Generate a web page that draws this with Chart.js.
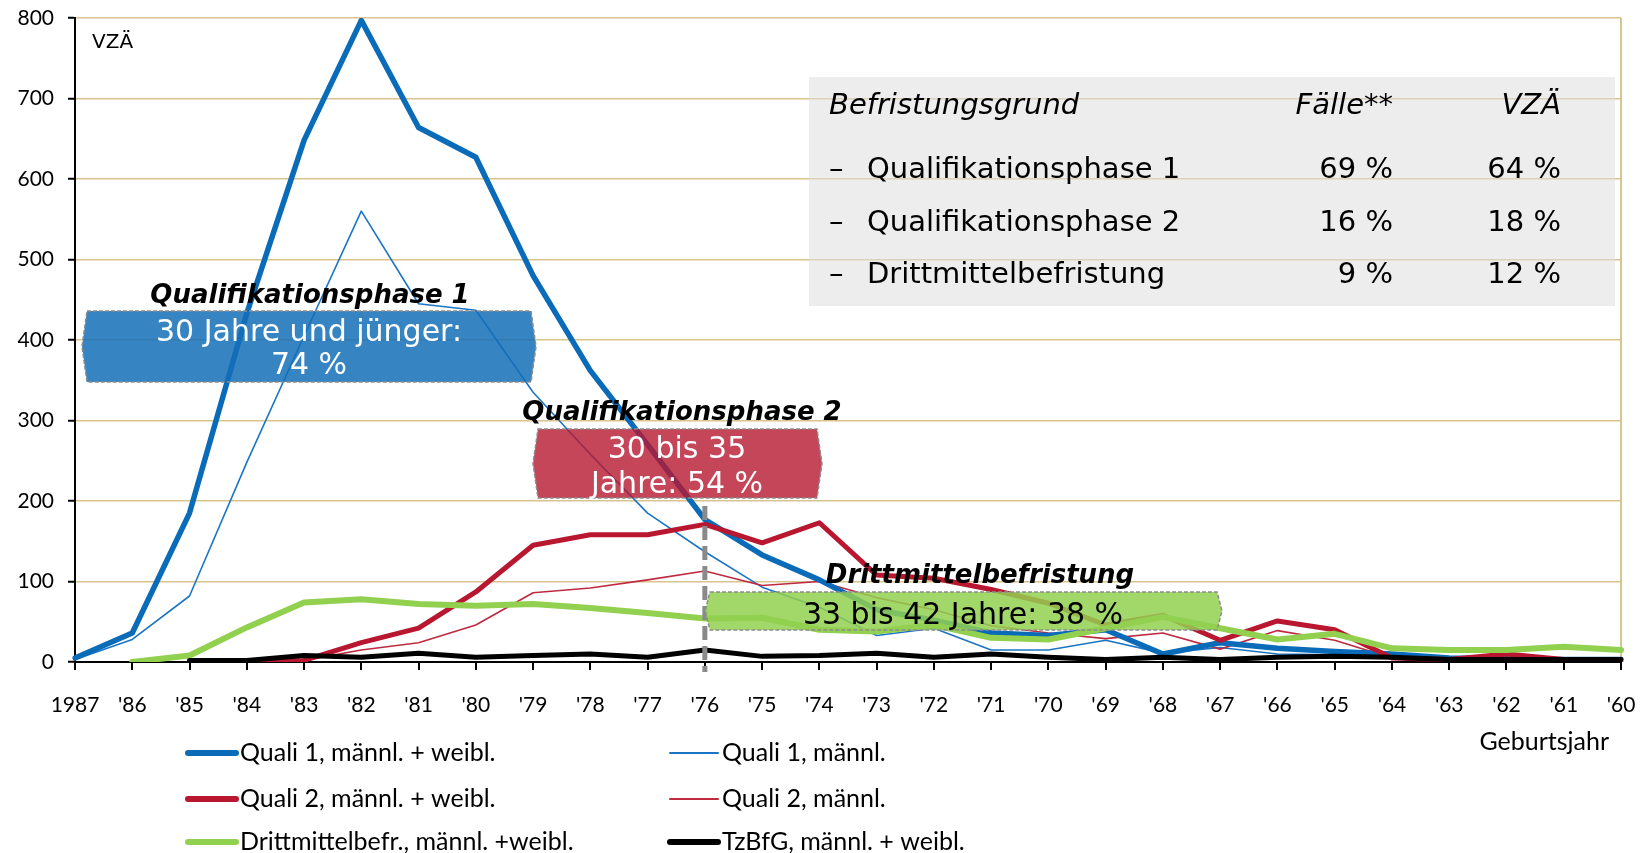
<!DOCTYPE html>
<html>
<head>
<meta charset="utf-8">
<script src="https://cdn.jsdelivr.net/npm/chart.js@4.4.1/dist/chart.umd.min.js"></script>
<style>
  html, body { margin: 0; padding: 0; background: #fff; }
  canvas { display: block; }
</style>
</head>
<body>
<canvas id="chart" width="1641" height="853"></canvas>
<script>
// --- data (VZÄ by birth year) ---
const years = ['1987', "'86", "'85", "'84", "'83", "'82", "'81", "'80", "'79", "'78", "'77", "'76", "'75", "'74",
               "'73", "'72", "'71", "'70", "'69", "'68", "'67", "'66", "'65", "'64", "'63", "'62", "'61", "'60"];
const quali1All = [5, 36, 185, 433, 648, 797, 664, 627, 480, 362, 270, 177, 133, 102, 65, 52, 36, 33, 40, 10, 24, 17, 13, 10, 5, 4, 3, 3];
const quali1M   = [3, 28, 82, 248, 405, 560, 445, 437, 335, 258, 185, 137, 93, 68, 33, 42, 15, 15, 27, 11, 18, 10, 9, 6, 3, 3, 2, 2];
const quali2All = [null, null, null, 0, 2, 24, 42, 87, 145, 158, 158, 171, 148, 173, 108, 104, 90, 73, 46, 58, 27, 51, 40, 5, 3, 10, 3, 2];
const quali2M   = [null, null, null, 0, 2, 15, 24, 46, 86, 92, 102, 113, 95, 100, 80, 65, 45, 36, 29, 36, 16, 39, 27, 5, 2, 5, 2, 2];
const dritt     = [null, 0, 8, 43, 74, 78, 72, 70, 72, 67, 61, 54, 55, 40, 38, 46, 30, 28, 42, 56, 42, 28, 35, 17, 15, 15, 19, 15];
const tzbfg     = [null, null, 2, 2, 8, 6, 11, 6, 8, 10, 6, 15, 7, 8, 11, 6, 10, 6, 3, 6, 3, 6, 7, 6, 3, 3, 3, 3];
const yTicks = [0, 100, 200, 300, 400, 500, 600, 700, 800];

// table in the upper right
const tableHead = ['Befristungsgrund', 'Fälle**', 'VZÄ'];
const tableRows = ['Qualifikationsphase 1', 'Qualifikationsphase 2', 'Drittmittelbefristung'];
const tableFaelle = ['69 %', '16 %', '9 %'];
const tableVZAE = ['64 %', '18 %', '12 %'];

const TAN = '#D8C48C';
const SANS = '"DejaVu Sans", Verdana, sans-serif';
const CAL = 'Lato, "Open Sans", sans-serif';

function mkSet(label, data, color, width, order){
  return { label, data, borderColor: color, backgroundColor: color, borderWidth: width,
           order, pointRadius: 0, tension: 0, fill: false,
           borderJoinStyle: 'round', borderCapStyle: 'round' };
}

const datasets = [
  mkSet('Quali 1, männl. + weibl.', quali1All, '#0A6BB8', 5.5, 3),
  mkSet('Quali 1, männl.', quali1M, '#1A76C4', 1.6, 5),
  mkSet('Quali 2, männl. + weibl.', quali2All, '#B8172F', 5, 2),
  mkSet('Quali 2, männl.', quali2M, '#BE2A40', 1.6, 4),
  mkSet('Drittmittelbefr., männl. +weibl.', dritt, '#92D050', 6, 1),
  mkSet('TzBfG, männl. + weibl.', tzbfg, '#000000', 5, 0)
];

// hexagon-ish label box (sides with a slight point)
function labelBox(c, x0, y0, x1, y1, fill){
  const ym = (y0 + y1) / 2, p = 5;
  c.save();
  c.beginPath();
  c.moveTo(x0, y0); c.lineTo(x1, y0); c.lineTo(x1 + p, ym); c.lineTo(x1, y1);
  c.lineTo(x0, y1); c.lineTo(x0 - p, ym); c.closePath();
  c.fillStyle = fill; c.fill();
  c.setLineDash([4, 2]); c.lineWidth = 1.5; c.strokeStyle = '#8c8c8c'; c.stroke();
  c.restore();
}

function txt(c, s, x, y, font, color, align){
  c.save();
  c.font = font; c.fillStyle = color; c.textAlign = align || 'center'; c.textBaseline = 'alphabetic';
  c.fillText(s, x, y);
  c.restore();
}

// chart.js adds its own label padding around the area; drop it so the plot box is fixed
function noPad(scale){
  scale.paddingTop = 0; scale.paddingBottom = 0; scale.paddingLeft = 0; scale.paddingRight = 0;
}

const overlay = {
  id: 'overlay',
  beforeDatasetsDraw(chart){
    const c = chart.ctx;
    c.save();
    c.fillStyle = 'rgba(222,222,222,0.55)';
    c.fillRect(809, 77, 806, 229);
    c.restore();
  },
  afterDatasetsDraw(chart){
    const c = chart.ctx, xs = chart.scales.x;
    // dashed marker at '76
    const xd = xs.getPixelForValue(years.indexOf("'76"));
    c.save();
    c.strokeStyle = '#8a8a8a'; c.lineWidth = 5; c.setLineDash([14, 6]);
    c.beginPath(); c.moveTo(xd, 506); c.lineTo(xd, 672); c.stroke();
    c.restore();

    const bi = 'italic bold 26px ' + SANS;
    const reg = '30px ' + SANS;
    // Qualifikationsphase 1
    labelBox(c, 87, 311, 531, 382, 'rgba(20,110,185,0.85)');
    txt(c, 'Qualifikationsphase 1', 310, 303, bi, '#000');
    txt(c, '30 Jahre und jünger:', 309, 341, reg, '#fff');
    txt(c, '74 %', 309, 374, reg, '#fff');
    // Qualifikationsphase 2
    labelBox(c, 538, 429, 817, 498, 'rgba(183,22,47,0.8)');
    txt(c, 'Qualifikationsphase 2', 682, 420, bi, '#000');
    txt(c, '30 bis 35', 677, 458, reg, '#fff');
    txt(c, 'Jahre: 54 %', 677, 493, reg, '#fff');
    // Drittmittelbefristung
    labelBox(c, 710, 592, 1217, 630, 'rgba(146,208,80,0.85)');
    txt(c, 'Drittmittelbefristung', 980, 583, bi, '#000');
    txt(c, '33 bis 42 Jahre: 38 %', 963, 624, reg, '#000');
  },
  afterDraw(chart){
    const c = chart.ctx;
    // axis titles
    txt(c, 'VZÄ', 92, 48, '20px ' + SANS, '#000', 'left');
    txt(c, 'Geburtsjahr', 1609, 750, '25px ' + CAL, '#000', 'right');

    // table text
    const f = '29px ' + SANS, fi = 'italic 29px ' + SANS;
    txt(c, tableHead[0], 829, 114, fi, '#000', 'left');
    txt(c, tableHead[1], 1393, 114, fi, '#000', 'right');
    txt(c, tableHead[2], 1561, 114, fi, '#000', 'right');
    const rowY = [178, 231, 283];
    tableRows.forEach((r, i) => {
      txt(c, '–', 829, rowY[i], f, '#000', 'left');
      txt(c, r, 867, rowY[i], f, '#000', 'left');
      txt(c, tableFaelle[i], 1393, rowY[i], f, '#000', 'right');
      txt(c, tableVZAE[i], 1561, rowY[i], f, '#000', 'right');
    });

    // legend, two columns
    const colX = [188, 670], rowsY = [753, 799, 842];
    chart.data.datasets.forEach((ds, i) => {
      const x = colX[i % 2], y = rowsY[Math.floor(i / 2)];
      c.save();
      c.strokeStyle = ds.borderColor; c.lineCap = 'round';
      c.lineWidth = ds.borderWidth > 3 ? 6 : 2;
      c.beginPath(); c.moveTo(x, y); c.lineTo(x + 48, y); c.stroke();
      c.font = '25px ' + CAL; c.fillStyle = '#000'; c.textBaseline = 'middle'; c.textAlign = 'left';
      c.fillText(ds.label, x + 52, y);
      c.restore();
    });
  }
};

new Chart(document.getElementById('chart'), {
  type: 'line',
  data: { labels: years, datasets },
  options: {
    responsive: false,
    animation: false,
    layout: { padding: { left: 0, top: 18, right: 20, bottom: 131 } },
    plugins: { legend: { display: false }, tooltip: { enabled: false } },
    scales: {
      x: {
        offset: false,
        grid: {
          drawOnChartArea: true,
          color: (ctx) => ctx.index === years.length - 1 ? TAN : 'rgba(0,0,0,0)',
          lineWidth: 2,
          tickColor: '#000',
          tickLength: 8,
          tickWidth: 2
        },
        border: { color: '#000', width: 2 },
        ticks: { autoSkip: false, maxRotation: 0, color: '#000', font: { family: CAL, size: 21 }, padding: 23 },
        afterFit(scale){ scale.height = 60; noPad(scale); }
      },
      y: {
        min: 0, max: 800,
        afterBuildTicks(scale){ scale.ticks = yTicks.map(v => ({ value: v })); },
        grid: { color: TAN, lineWidth: 1.5, tickColor: '#000', tickLength: 7, tickWidth: 2 },
        border: { color: '#000', width: 2 },
        ticks: { color: '#000', font: { family: CAL, size: 21 }, padding: 14 },
        afterFit(scale){ scale.width = 75; noPad(scale); }
      }
    }
  },
  plugins: [overlay]
});
</script>
</body>
</html>
